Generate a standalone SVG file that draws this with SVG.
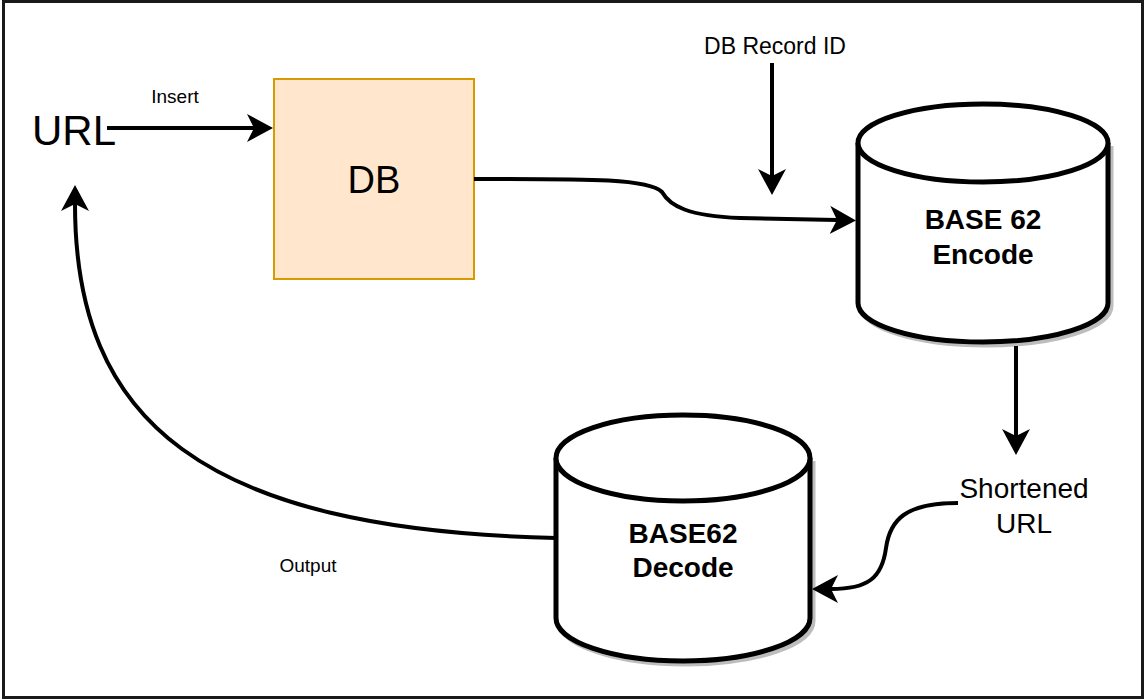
<svg xmlns="http://www.w3.org/2000/svg" width="1144" height="699" viewBox="0 0 1144 699">
<style>
text{font-family:"Liberation Sans",Arial,Helvetica,sans-serif;fill:#000}
.c{text-anchor:middle}
.edge{fill:none;stroke:#000;stroke-width:4}
.cyl{fill:#fff;stroke:#000;stroke-width:5}
.shadow{fill:none;stroke:#bdbdbd;stroke-width:5}
.bold{font-weight:bold;font-size:28px}
</style>
<defs>
<marker id="arr" viewBox="0 0 26 28" markerWidth="26" markerHeight="28" refX="7" refY="14" markerUnits="userSpaceOnUse" orient="auto">
<path d="M0,0 L26,14 L0,28 L7,14 Z" fill="#000"/>
</marker>
</defs>
<rect x="3.5" y="1.5" width="1139" height="696" fill="#fff" stroke="#1a1a1a" stroke-width="3"/>

<g id="url">
<text x="32" y="145" font-size="42">URL</text>
</g>

<g id="db">
<rect x="274" y="79" width="200" height="200" fill="#FFE6CC" stroke="#D79B00" stroke-width="2"/>
<text class="c" x="374" y="193" font-size="38">DB</text>
</g>

<g id="dbrecord">
<text class="c" x="775" y="54" font-size="23">DB Record ID</text>
</g>

<g id="encode">
<path class="shadow" d="M861 146 L861 306 A125 39 0 0 0 1111 306 L1111 146"/>
<path class="cyl" d="M858 143 A125 39 0 0 1 1108 143 L1108 303 A125 39 0 0 1 858 303 Z"/>
<path class="cyl" d="M858 143 A125 39 0 0 0 1108 143" fill="none"/>
<text class="c bold" x="983" y="229">BASE 62</text>
<text class="c bold" x="983" y="264">Encode</text>
</g>

<g id="shortened">
<text class="c" x="1024" y="498" font-size="28">Shortened</text>
<text class="c" x="1024" y="533" font-size="28">URL</text>
</g>

<g id="decode">
<path class="shadow" d="M559 461 L559 621 A127 43 0 0 0 813 621 L813 461"/>
<path class="cyl" d="M556 458 A127 43 0 0 1 810 458 L810 618 A127 43 0 0 1 556 618 Z"/>
<path class="cyl" d="M556 458 A127 43 0 0 0 810 458" fill="none"/>
<text class="c bold" x="683" y="543">BASE62</text>
<text class="c bold" x="683" y="577">Decode</text>
</g>

<g id="connectors">
<path class="edge" d="M107 128 L254 128" marker-end="url(#arr)"/>
<text class="c" x="175" y="103" font-size="19">Insert</text>
<path class="edge" d="M772 63 L772 176" marker-end="url(#arr)"/>
<path class="edge" d="M474 179 C580 179 648 178 662 192 C670 206 688 216 740 218 L837 220" marker-end="url(#arr)"/>
<path class="edge" d="M1016 346 L1016 436" marker-end="url(#arr)"/>
<path class="edge" d="M958 503 C905 503 890 520 886 548 C882 578 868 589 831 589" marker-end="url(#arr)"/>
<path class="edge" d="M556 538 C200 530 75 420 75 204" marker-end="url(#arr)"/>
<text class="c" x="308" y="572" font-size="19">Output</text>
</g>
</svg>
